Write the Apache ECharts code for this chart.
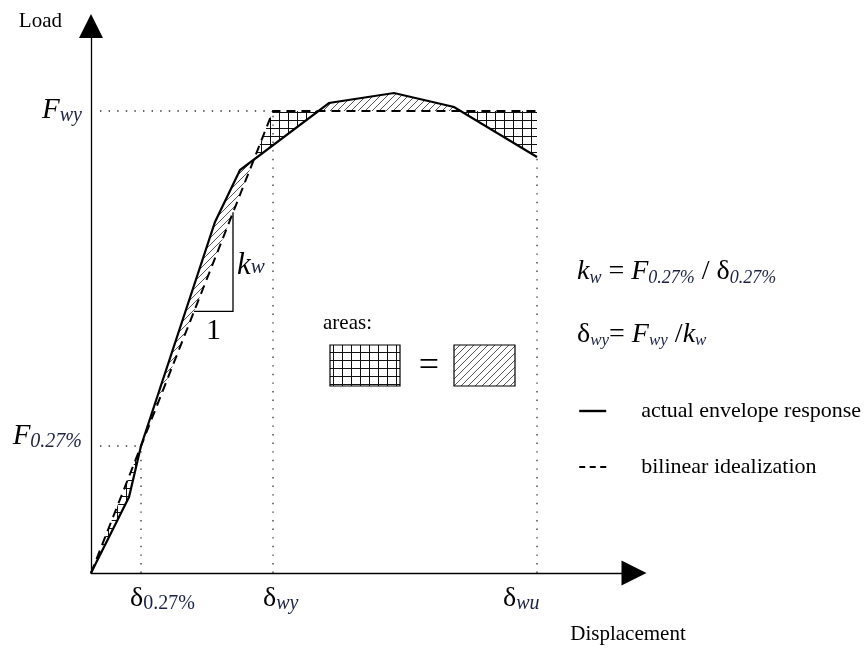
<!DOCTYPE html>
<html>
<head>
<meta charset="utf-8">
<script src="https://cdn.jsdelivr.net/npm/echarts@6/dist/echarts.min.js"></script>
<style>
  html, body { margin: 0; padding: 0; background: #fff; }
  #chart { width: 866px; height: 653px; }
</style>
</head>
<body>
<div id="chart"></div>
<script>
// Actual envelope response of the wall (displacement, load)
const envelopeDisp = [0, 3.8, 5.0, 12.4, 14.9, 23.8, 30.3, 36.3, 44.6];
const envelopeLoad = [0, 7.6, 12.7, 35.1, 40.3, 47.0, 48.0, 46.6, 41.6];

// Bilinear idealization: elastic branch up to F_wy, then plateau to delta_wu
const bilinearDisp = [0, 18.2, 44.6];
const bilinearLoad = [0, 46.2, 46.2];

// Characteristic points
const delta027 = 5.0;   // displacement at 0.27 % drift
const load027 = 12.7;   // load at 0.27 % drift
const deltaWy = 18.2;
const loadWy = 46.2;
const deltaWu = 44.6;

// Elastic stiffness k_w = F_0.27% / delta_0.27%
const kw = load027 / delta027;
// Horizontal run of the stiffness triangle drawn on the elastic branch
const slopeRun = [10.3, 14.2];

// Tick annotations on the axes (rich-text markup)
const xTickValues = [delta027, deltaWy, deltaWu];
const xTickTexts = ['{d|δ}{su|0.27%}', '{d|δ}{s|wy}', '{d|δ}{s|wu}'];
const yTickValues = [load027, loadWy];
const yTickTexts = ['{m|F}{s|0.27%}', '{m|F}{s|wy}'];

// Legend / series names
const seriesNames = ['actual envelope response', 'bilinear idealization'];

// ---------------------------------------------------------------------------
const FONT = '"Liberation Serif", "Times New Roman", serif';
const SUB = '#1b2244';
const xLabelShift = [-11, -10, -34];
const yLabelShift = [-10, -1];

// rich-text styles with a lowered subscript (zrender style props)
function richSet(main, sub, drop) {
  const H = main + 2 * drop + 8;
  const base = { fontFamily: FONT, height: H, lineHeight: H };
  const subBase = { fontFamily: FONT, height: H - 2 * drop, lineHeight: H, padding: [2 * drop, 0, 0, 0] };
  return {
    m: Object.assign({ fontSize: main, fontStyle: 'italic', fill: '#000' }, base),
    u: Object.assign({ fontSize: main, fill: '#000' }, base),
    d: Object.assign({ fontSize: main, fill: '#000' }, base),
    s: Object.assign({ fontSize: sub, fontStyle: 'italic', fill: SUB }, subBase),
    su: Object.assign({ fontSize: sub, fill: SUB }, subBase)
  };
}

// hatch patterns
function makePattern(kind) {
  const c = document.createElement('canvas');
  const ctx = c.getContext('2d');
  if (kind === 'grid') {
    c.width = 9; c.height = 8;
    ctx.strokeStyle = '#111';
    ctx.lineWidth = 1;
    ctx.beginPath();
    ctx.moveTo(0.5, 0); ctx.lineTo(0.5, 8);
    ctx.moveTo(0, 0.5); ctx.lineTo(9, 0.5);
    ctx.stroke();
  } else {
    const n = 7;
    c.width = n; c.height = n;
    ctx.strokeStyle = '#555';
    ctx.lineWidth = 1;
    ctx.beginPath();
    ctx.moveTo(-1, n + 1); ctx.lineTo(n + 1, -1);
    ctx.moveTo(-1, 1); ctx.lineTo(1, -1);
    ctx.moveTo(n - 1, n + 1); ctx.lineTo(n + 1, n - 1);
    ctx.stroke();
  }
  return { image: c, repeat: 'repeat' };
}
const gridFill = makePattern('grid');
const diagFill = makePattern('diag');

// piecewise-linear evaluation
function yAt(xs, ys, x) {
  for (let i = 0; i < xs.length - 1; i++) {
    if (x >= xs[i] && x <= xs[i + 1]) {
      const t = (x - xs[i]) / (xs[i + 1] - xs[i]);
      return ys[i] + t * (ys[i + 1] - ys[i]);
    }
  }
  return ys[ys.length - 1];
}
const yEnv = x => yAt(envelopeDisp, envelopeLoad, x);
const yBil = x => yAt(bilinearDisp, bilinearLoad, x);
const gap = x => yBil(x) - yEnv(x);

// areas enclosed between the two curves, split where they cross
function hatchRegions() {
  const end = Math.min(envelopeDisp[envelopeDisp.length - 1], bilinearDisp[bilinearDisp.length - 1]);
  const xs = Array.from(new Set(envelopeDisp.concat(bilinearDisp)))
    .filter(x => x <= end).sort((a, b) => a - b);
  const pts = [];
  for (let i = 0; i < xs.length; i++) {
    pts.push(xs[i]);
    if (i < xs.length - 1) {
      const g0 = gap(xs[i]), g1 = gap(xs[i + 1]);
      if (g0 * g1 < 0) pts.push(xs[i] + (xs[i + 1] - xs[i]) * g0 / (g0 - g1));
    }
  }
  const regions = [];
  let cur = null;
  for (let i = 0; i < pts.length - 1; i++) {
    const sign = gap((pts[i] + pts[i + 1]) / 2) > 0 ? 1 : -1;
    if (!cur || cur.sign !== sign) { cur = { sign, xs: [pts[i]] }; regions.push(cur); }
    cur.xs.push(pts[i + 1]);
  }
  return regions.map(r => ({
    sign: r.sign,
    poly: r.xs.map(x => [x, yBil(x)]).concat(r.xs.slice().reverse().map(x => [x, yEnv(x)]))
  }));
}
const regions = hatchRegions();

// dotted guide segments
const guides = [
  [[0.9, loadWy], [deltaWy, loadWy]],
  [[deltaWy, 0], [deltaWy, loadWy]],
  [[deltaWu, 0], [deltaWu, envelopeLoad[envelopeLoad.length - 1]]],
  [[0.9, load027], [delta027, load027]],
  [[delta027, 0], [delta027, load027]]
];

const chart = echarts.init(document.getElementById('chart'), null, { renderer: 'canvas' });

const option = {
  animation: false,
  backgroundColor: '#fff',
  grid: { left: 91, right: 232, top: 26, bottom: 80, containLabel: false },
  xAxis: {
    type: 'value', min: 0, max: 54.3,
    name: 'Displacement', nameLocation: 'end', nameGap: -6,
    nameTextStyle: { fontFamily: FONT, fontSize: 21, color: '#000', align: 'center', verticalAlign: 'top', padding: [51, 0, 0, 0] },
    axisLine: { show: true, symbol: ['none', 'triangle'], symbolSize: [25, 25], lineStyle: { color: '#000', width: 1.3 } },
    axisTick: { show: false }, axisLabel: { show: false }, splitLine: { show: false }
  },
  yAxis: {
    type: 'value', min: 0, max: 54.7,
    name: 'Load', nameLocation: 'end', nameGap: 5,
    nameTextStyle: { fontFamily: FONT, fontSize: 21, color: '#000', align: 'right', verticalAlign: 'middle', padding: [0, 29, 0, 0] },
    axisLine: { show: true, symbol: ['none', 'triangle'], symbolSize: [24, 24], lineStyle: { color: '#000', width: 1.3 } },
    axisTick: { show: false }, axisLabel: { show: false }, splitLine: { show: false }
  },
  legend: {
    orient: 'vertical', left: 573, top: 394,
    itemWidth: 27, itemHeight: 14, itemGap: 32,
    selectedMode: false,
    itemStyle: { color: 'rgba(0,0,0,0)', borderWidth: 0 },
    lineStyle: { color: '#000', width: 2.4 },
    textStyle: { fontFamily: FONT, fontSize: 22, color: '#000', lineHeight: 24, padding: [0, 0, 0, 30] },
    data: [
      { name: seriesNames[0] },
      { name: seriesNames[1], lineStyle: { type: [6, 4.5], width: 2.2 } }
    ]
  },
  graphic: [
    { type: 'text', left: 323, top: 313, style: { text: 'areas:', fontFamily: FONT, fontSize: 21, fill: '#000' } },
    { type: 'rect', shape: { x: 330, y: 345, width: 70, height: 41 }, style: { fill: gridFill, stroke: '#000', lineWidth: 1.2 } },
    { type: 'text', x: 429, y: 367, style: { text: '=', fontFamily: FONT, fontSize: 36, fill: '#000', align: 'center', verticalAlign: 'middle' } },
    { type: 'rect', shape: { x: 454, y: 345, width: 61, height: 41 }, style: { fill: diagFill, stroke: '#000', lineWidth: 1.2 } },
    { type: 'text', x: 577, y: 272, style: {
        text: '{m|k}{s|w}{u| = }{m|F}{s|0.27%}{u| / }{d|δ}{s|0.27%}',
        rich: richSet(28, 18, 6), align: 'left', verticalAlign: 'middle' } },
    { type: 'text', x: 577, y: 335, style: {
        text: '{d|δ}{s|wy}{u|= }{m|F}{s|wy}{u| /}{m|k}{s|w}',
        rich: richSet(28, 17, 6), align: 'left', verticalAlign: 'middle' } }
  ],
  series: [
    {
      type: 'custom', name: 'areas', silent: true, z: 1,
      data: regions.map(r => r.poly[0]),
      renderItem: (params, api) => {
        const r = regions[params.dataIndex];
        return {
          type: 'polygon',
          shape: { points: r.poly.map(p => api.coord(p)) },
          style: { fill: r.sign > 0 ? gridFill : diagFill, stroke: null }
        };
      }
    },
    {
      type: 'custom', name: 'guides', silent: true, z: 2,
      data: guides.map(g => g[0]),
      renderItem: (params, api) => {
        const g = guides[params.dataIndex];
        const a = api.coord(g[0]), b = api.coord(g[1]);
        return {
          type: 'line',
          shape: { x1: a[0], y1: a[1], x2: b[0], y2: b[1] },
          style: { stroke: '#333', lineWidth: 1.3, lineDash: [1.4, 7.2] }
        };
      }
    },
    {
      type: 'custom', name: 'x ticks', silent: true, z: 3,
      data: xTickValues.map(v => [v, 0]),
      renderItem: (params, api) => {
        const p = api.coord([xTickValues[params.dataIndex], 0]);
        return {
          type: 'text',
          x: p[0] + xLabelShift[params.dataIndex], y: p[1] + 26,
          style: { text: xTickTexts[params.dataIndex], rich: richSet(28, 20, 5), align: 'left', verticalAlign: 'middle' }
        };
      }
    },
    {
      type: 'custom', name: 'y ticks', silent: true, z: 3,
      data: yTickValues.map(v => [0, v]),
      renderItem: (params, api) => {
        const p = api.coord([0, yTickValues[params.dataIndex]]);
        return {
          type: 'text',
          x: p[0] - 9, y: p[1] + yLabelShift[params.dataIndex],
          style: { text: yTickTexts[params.dataIndex], rich: richSet(29, 20, 6), align: 'right', verticalAlign: 'middle' }
        };
      }
    },
    {
      type: 'custom', name: 'stiffness', silent: true, z: 4,
      data: [[slopeRun[0], kw * slopeRun[0]]],
      renderItem: (params, api) => {
        const a = api.coord([slopeRun[0], kw * slopeRun[0]]);
        const c = api.coord([slopeRun[1], kw * slopeRun[0]]);
        const b = api.coord([slopeRun[1], kw * slopeRun[1]]);
        return {
          type: 'group',
          children: [
            { type: 'polyline', shape: { points: [a, c, b] }, style: { stroke: '#000', lineWidth: 1.3, fill: null } },
            { type: 'text', x: c[0] + 4, y: (b[1] + c[1]) / 2 + 4,
              style: { text: '{m|k}{s|w}', rich: richSet(31, 21, 2), align: 'left', verticalAlign: 'middle' } },
            { type: 'text', x: (a[0] + c[0]) / 2, y: c[1] + 20,
              style: { text: '1', fontFamily: FONT, fontSize: 30, fill: '#000', align: 'center', verticalAlign: 'middle' } }
          ]
        };
      }
    },
    {
      type: 'line', name: seriesNames[1], z: 5,
      data: bilinearDisp.map((x, i) => [x, bilinearLoad[i]]),
      symbol: 'none', showSymbol: false,
      lineStyle: { color: '#000', width: 2, type: [9, 6] },
      itemStyle: { color: '#000' }
    },
    {
      type: 'line', name: seriesNames[0], z: 6,
      data: envelopeDisp.map((x, i) => [x, envelopeLoad[i]]),
      symbol: 'none', showSymbol: false,
      lineStyle: { color: '#000', width: 2.2, join: 'miter' },
      itemStyle: { color: '#000' }
    }
  ]
};

chart.setOption(option);
</script>
</body>
</html>
